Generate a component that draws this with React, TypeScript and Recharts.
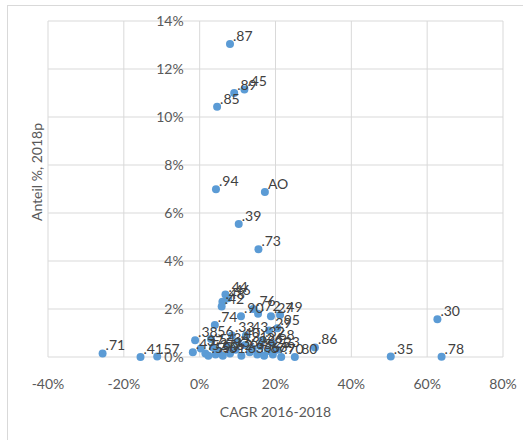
import { CartesianGrid, Scatter, ScatterChart, XAxis, YAxis, Label } from 'recharts'

// growth 2016-2018 (%), share 2018p (%), code
const growth = [
  8.0, 9.1, 11.8, 4.6, 4.3, 17.2, 10.3, 15.5, 62.7, 63.8, 50.4, 30.4, 25.1, -25.6, -15.6, -11.2,
  21.2, 6.8, 6.0, 7.5, 5.8, 4.0, 10.9, 14.1, 15.4, 18.8, 18.3, 20.5, 19.1, -1.2, -1.8, 8.5, 12.2,
  0.3, 1.5, 2.3, 3.5, 4.2, 5.0, 6.1, 7.2, 8.0, 9.5, 11.0, 12.0, 13.2, 14.0, 15.2, 16.0, 17.0, 18.0,
  19.3, 20.5, 21.5, 3.0, 10.0, 16.5,
]
const share = [
  13.04, 11.0, 11.15, 10.43, 6.99, 6.88, 5.54, 4.49, 1.57, 0.01, 0.02, 0.4, 0.0, 0.15, 0.0, 0.02,
  1.75, 2.6, 2.3, 2.45, 2.1, 1.33, 1.7, 2.0, 1.8, 1.7, 1.1, 1.2, 0.58, 0.7, 0.2, 0.9, 0.9,
  0.35, 0.15, 0.05, 0.4, 0.1, 0.25, 0.05, 0.45, 0.15, 0.3, 0.05, 0.5, 0.2, 0.35, 0.1, 0.45, 0.05, 0.25,
  0.1, 0.3, 0.0, 0.75, 0.65, 0.7,
]
const codes = [
  '.87', '.89', '.45', '.85', '.94', 'AO', '.39', '.73', '.30', '.78', '.35', '.86', '.80', '.71', '.41', '.57',
  '.49', '.44', '.48', '.46', '.42', '.74', '.90', '.76', '.72', '.27', '.29', '.95', '.68', '.38', '.47', '.33', '.43',
  '.37', '.52', '.59', '.54', '.50', '.53', '.61', '.34', '.62', '.36', '.63', '.31', '.65', '.28', '.66', '.26', '.67', '.25',
  '.69', '.23', '.70', '.56', '.40', '.32',
]

const xTicks = [-40, -20, 0, 20, 40, 60, 80]
const yTicks = [0, 2, 4, 6, 8, 10, 12, 14]

const data = growth.map((g, i) => ({ x: g, y: share[i], code: codes[i] }))

const W = 523
const H = 440
const M = { top: 21, right: 20, left: 47, bottom: 23 }
const Y_AXIS_W = 1
const X_MIN = -40
const X_MAX = 80
const PLOT_L = M.left + Y_AXIS_W
const ZERO_X = PLOT_L + ((0 - X_MIN) / (X_MAX - X_MIN)) * (W - PLOT_L - M.right)

const FONT = 'Lato, "Open Sans", sans-serif'

const renderYTick = (props: any) => {
  const { y, payload } = props
  return (
    <text x={ZERO_X - 16} y={y} dy="0.35em" textAnchor="end" fill="#595959" fontSize={14} fontFamily={FONT}>
      {payload.value}%
    </text>
  )
}

function Dot(props: any) {
  const { cx, cy } = props
  return <circle cx={cx} cy={cy} r={4} fill="#5b9bd5" />
}

function CodeText(props: any) {
  const { cx, cy, payload } = props
  return (
    <text x={cx + 3} y={cy - 3} fill="#404040" fontSize={14} fontFamily={FONT}>
      {payload.code}
    </text>
  )
}

export default function App() {
  return (
    <div style={{ position: 'absolute', left: 0, top: 0, width: W, height: H, overflow: 'hidden', background: '#fff' }}>
      <div
        style={{
          position: 'absolute',
          left: 7,
          top: 5,
          width: 600,
          height: 500,
          borderLeft: '1px solid #d9d9d9',
          borderTop: '1px solid #d9d9d9',
        }}
      />
      <div style={{ position: 'absolute', left: 0, top: 0 }}>
        <ScatterChart width={W} height={H} margin={M}>
          <CartesianGrid stroke="#d9d9d9" />
          <XAxis
            type="number"
            dataKey="x"
            domain={[X_MIN, X_MAX]}
            ticks={xTicks}
            height={60}
            axisLine={false}
            tickLine={false}
            tickSize={0}
            tickMargin={22}
            tickFormatter={(v: number) => `${v}%`}
            tick={{ fill: '#595959', fontSize: 14, fontFamily: FONT }}
          >
            <Label
              value="CAGR 2016-2018"
              position="insideBottom"
              offset={0}
              style={{ fill: '#595959', fontSize: 14, fontFamily: FONT }}
            />
          </XAxis>
          <YAxis
            type="number"
            dataKey="y"
            domain={[0, 14]}
            ticks={yTicks}
            width={Y_AXIS_W}
            axisLine={false}
            tickLine={false}
            tick={renderYTick}
          />
          <Scatter data={data} shape={<Dot />} isAnimationActive={false} />
          <Scatter data={data} shape={<CodeText />} isAnimationActive={false} />
        </ScatterChart>
      </div>
      <div
        style={{
          position: 'absolute',
          left: 36,
          top: 172,
          transform: 'translate(-50%, -50%) rotate(-90deg)',
          whiteSpace: 'nowrap',
          color: '#595959',
          fontSize: 14,
          fontFamily: FONT,
        }}
      >
        Anteil %, 2018p
      </div>
    </div>
  )
}
